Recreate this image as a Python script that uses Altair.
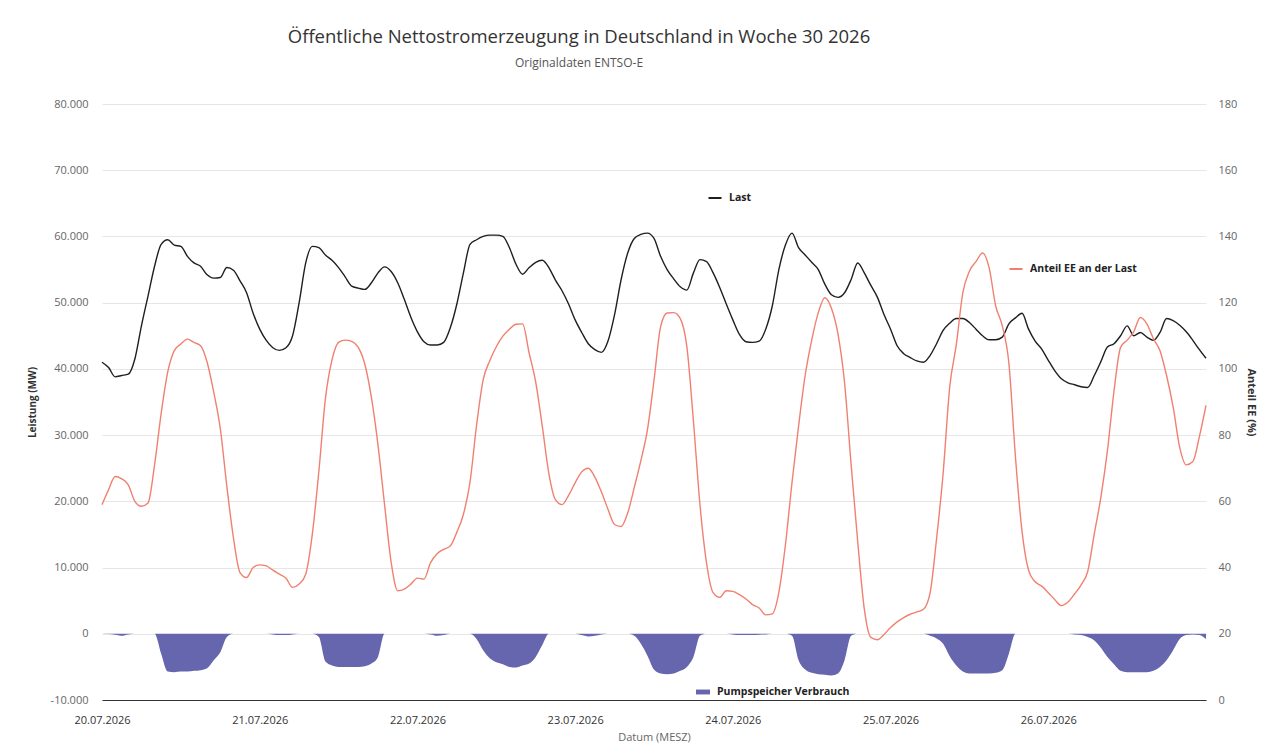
import altair as alt
import pandas as pd

# ---------------- data (hourly, MESZ) ----------------
day_labels = ["20.07.2026", "21.07.2026", "22.07.2026", "23.07.2026",
              "24.07.2026", "25.07.2026", "26.07.2026"]

series_names = ["Last", "Anteil EE an der Last", "Pumpspeicher Verbrauch"]

# hour offset from 20.07.2026 00:00
hours = list(range(169))

last_mw = [
    41000, 40200, 38800, 39000, 39200, 41500, 46500, 51000, 55500, 58800, 59500, 58700,
    58500, 57000, 56000, 55500, 54200, 53700, 53800, 55300, 54900, 53300, 51500, 48400,
    46000, 44300, 43200, 42800, 43200, 45000, 50000, 56000, 58500, 58300, 57200, 56400,
    55300, 53900, 52500, 52200, 52000, 53000, 54500, 55400, 54700, 53000, 50500, 47800,
    45600, 44100, 43600, 43600, 44000, 46200, 49800, 54500, 58800, 59500, 60000, 60200,
    60200, 60000, 58300, 55800, 54300, 55300, 56100, 56400, 55300, 53400, 51800, 49800,
    47400, 45500, 43800, 42900, 42500, 44200, 48200, 53500, 57500, 59700, 60300, 60500,
    59700, 57000, 55000, 53600, 52400, 51900, 54500, 56500, 56200, 54500, 52300, 49800,
    47400, 45200, 44100, 44000, 44200, 46000, 49500, 55000, 58700, 60500, 58300, 57200,
    56100, 55000, 52800, 51200, 50800, 51500, 53500, 56000, 54500, 52600, 50800, 48200,
    46000, 43500, 42300, 41700, 41200, 41000, 42000, 43800, 45800, 46900, 47600, 47600,
    47000, 46000, 45000, 44400, 44400, 44800, 46800, 47700, 48400, 46000, 44200, 43000,
    41300, 39700, 38500, 37900, 37600, 37300, 37200, 39000, 41100, 43300, 43800, 45000,
    46500, 45000, 45500, 44800, 44300, 45500, 47600, 47300, 46600, 45600, 44300, 42900,
    41600,
]

anteil_ee_pct = [
    59, 63.5, 67.5, 66.8, 65, 60, 58.5, 59.5, 71, 86.5, 99, 105.5,
    107.5, 109, 108, 107, 102, 93, 82, 64.5, 49, 38.5, 37, 40,
    40.8, 40.5, 39.2, 38, 36.8, 34, 35, 38, 50, 69, 91, 102.7,
    108, 108.7, 108.3, 106.5, 101.4, 91.3, 77, 59, 41.6, 33, 33.5, 35,
    36.8, 36.5, 41.5, 44.2, 45.5, 46.5, 50.7, 56.1, 65.8, 83, 96.7, 102.4,
    106.7, 109.9, 112, 113.5, 113.6, 104.8, 96, 82.7, 68.4, 60.5, 59, 61.8,
    65.6, 68.9, 70, 67.3, 62.8, 57.6, 53, 52.4, 56.5, 64.2, 72.3, 81.6,
    96.5, 112.7, 116.9, 117, 115.2, 106.7, 84.2, 58.9, 41.3, 32.4, 31, 33,
    32.8, 31.8, 30.5, 28.8, 27.8, 25.7, 26, 32.5, 46.9, 65.7, 82.7, 98,
    108.7, 117, 121.5, 118.3, 110.5, 95.8, 71, 47.8, 27.5, 18.9, 18.2, 19.8,
    21.9, 23.6, 24.9, 25.9, 26.6, 27.4, 32.2, 48.7, 68.5, 94.5, 107.3, 123,
    129.5, 132.4, 135, 130.5, 119, 113, 101.8, 73.5, 51, 39.2, 35.7, 34.4,
    32.4, 30.3, 28.5, 29.6, 32, 34.8, 38.8, 50.2, 61.2, 75.3, 93.3, 106.5,
    108.7, 111.2, 115.5, 113.6, 109.1, 105.5, 98, 88.5, 76.3, 71, 72, 79.6,
    89,
]

pumpspeicher_mw = [
    0, -50, -150, -300, -100, 0, 0, 0, 0, -3000, -5700, -5800,
    -5700, -5700, -5600, -5500, -5200, -4000, -2800, -500, 0, 0, 0, 0,
    0, 0, -100, -200, -200, -100, 0, 0, 0, -500, -4200, -4800,
    -5000, -5000, -5000, -5000, -4900, -4500, -3500, 0, 0, 0, 0, 0,
    0, 0, -100, -300, -200, 0, 0, 0, 0, -800, -2500, -3700,
    -4300, -4600, -5000, -5100, -4800, -4500, -3500, -1700, 0, 0, 0, 0,
    0, -200, -400, -300, -100, 0, 0, 0, 0, -300, -1500, -3300,
    -5400, -6000, -6100, -6000, -5600, -5000, -3500, -300, 0, 0, 0, 0,
    -100, -200, -200, -200, -150, -100, 0, 0, 0, -300, -4000, -5400,
    -5900, -6100, -6200, -6300, -6000, -4000, -300, 0, 0, 0, 0, 0,
    0, 0, 0, 0, 0, 0, -300, -700, -1500, -3400, -4800, -5700,
    -6000, -6000, -6000, -6000, -5900, -5500, -3000, 0, 0, 0, 0, 0,
    0, 0, 0, 0, -100, -200, -500, -1000, -2100, -3500, -4600, -5600,
    -5800, -5800, -5800, -5800, -5600, -5000, -4000, -2500, -800, -200, -100, -200,
    -800,
]

df = pd.DataFrame({
    "h": hours,
    "last": last_mw,
    "ee": anteil_ee_pct,
    "pump": pumpspeicher_mw,
    "s_last": series_names[0],
    "s_ee": series_names[1],
    "s_pump": series_names[2],
})

# ---------------- styling ----------------
FONT = "Open Sans"
C_LAST = "#1f1f1f"
C_EE = "#f0806f"
C_PUMP = "#6666ae"

label_list = "[" + ",".join("'" + d + "'" for d in day_labels) + "]"
x_enc = alt.X(
    "h:Q",
    scale=alt.Scale(domain=[0, 168], nice=False, zero=False),
    axis=alt.Axis(
        values=[0, 24, 48, 72, 96, 120, 144],
        labelExpr=label_list + "[round(datum.value / 24)]",
        title="Datum (MESZ)",
        titleFontWeight="normal",
        titleColor="#666666",
        titleFontSize=11,
        titlePadding=6,
        labelColor="#333333",
        labelFontSize=11,
        labelPadding=14,
        labelFlush=False,
        grid=False,
        domain=True,
        domainColor="#333333",
        domainWidth=1.2,
        ticks=False,
    ),
)

mw_expr = "replace(replace(format(datum.value, ',d'), ',', '.'), '\u2212', '-')"

def legend(x, y, sym, size):
    return alt.Legend(
        orient="none", legendX=x, legendY=y, title=None, padding=0,
        symbolType=sym, symbolSize=size, symbolStrokeWidth=2,
        labelFont=FONT, labelFontWeight="bold", labelFontSize=10.5,
        labelColor="#222222", labelOffset=6,
    )

pump = alt.Chart(df).mark_area(opacity=1, interpolate="monotone").encode(
    x=x_enc,
    y=alt.Y("pump:Q", scale=alt.Scale(domain=[-10000, 80000], nice=False), axis=None),
    color=alt.Color("s_pump:N", scale=alt.Scale(domain=[series_names[2]], range=[C_PUMP]),
                    legend=legend(593, 580, "M-1,-0.35H1V0.35H-1Z", 196)),
)

last = alt.Chart(df).mark_line(strokeWidth=1.4, interpolate="monotone").encode(
    x=x_enc,
    y=alt.Y("last:Q", scale=alt.Scale(domain=[-10000, 80000], nice=False),
            axis=alt.Axis(orient="left", values=list(range(-10000, 80001, 10000)),
                          labelExpr=mw_expr, title="Leistung (MW)", grid=True,
                          gridColor="#e6e6e6", labelColor="#666666", labelFontSize=11,
                          labelPadding=14, titlePadding=13, titleFontSize=10,
                          titleColor="#333333", titleFontWeight="bold",
                          domain=False, ticks=False)),
    color=alt.Color("s_last:N", scale=alt.Scale(domain=[series_names[0]], range=[C_LAST]),
                    legend=legend(605, 86, "stroke", 170)),
)

ee = alt.Chart(df).mark_line(strokeWidth=1.4, interpolate="monotone").encode(
    x=x_enc,
    y=alt.Y("ee:Q", scale=alt.Scale(domain=[0, 180], nice=False),
            axis=alt.Axis(orient="right", values=list(range(0, 181, 20)),
                          title="Anteil EE (%)", grid=False, labelColor="#666666",
                          labelFontSize=11, labelPadding=12, titlePadding=9,
                          titleFontSize=11, titleColor="#333333", titleFontWeight="bold",
                          domain=False, ticks=False)),
    color=alt.Color("s_ee:N", scale=alt.Scale(domain=[series_names[1]], range=[C_EE]),
                    legend=legend(906, 157, "stroke", 170)),
)

chart = alt.layer(pump, last, ee).resolve_scale(
    y="independent", color="independent"
).properties(
    width=1104,
    height=596,
    padding={"left": 94, "top": 96, "right": 56, "bottom": 46},
    autosize=alt.AutoSizeParams(type="none"),
    title=alt.TitleParams(
        text="Öffentliche Nettostromerzeugung in Deutschland in Woche 30 2026",
        subtitle="Originaldaten ENTSO-E",
        font=FONT, fontSize=18.5, fontWeight="normal", color="#333333",
        subtitleFont=FONT, subtitleFontSize=12, subtitleColor="#555555",
        subtitlePadding=12, anchor="middle", frame="group", dx=-75, offset=29,
    ),
).configure(
    font=FONT,
).configure_view(
    stroke=None,
).configure_axis(
    labelFont=FONT, titleFont=FONT,
)

chart.save("out.html", embed_options={"renderer": "svg", "actions": False})
